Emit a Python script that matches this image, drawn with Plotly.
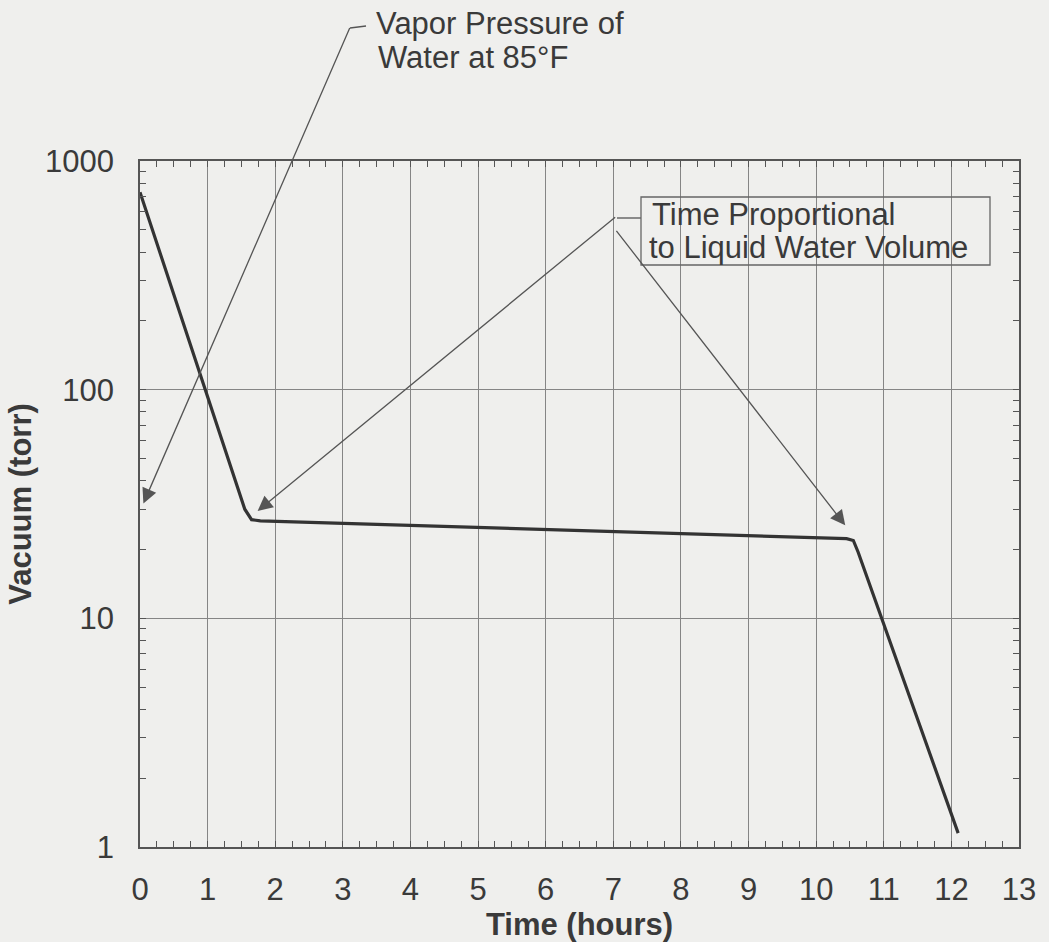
import numpy as np
import plotly.graph_objects as go

# ---- data ----
time_h = [0.0, 1.55, 1.65, 1.78, 10.45, 10.55, 10.62, 12.1]
vacuum_torr = [730, 30.0, 27.0, 26.7, 22.3, 21.9, 19.5, 1.15]

x_ticks = list(range(0, 14))
y_ticks = [1, 10, 100, 1000]
y_tick_labels = ["1", "10", "100", "1000"]

vapor_point = (0.05, 31.8)          # vapor pressure of water at 85 F (torr)
plateau_start_tip = (1.74, 29.5)
plateau_end_tip = (10.43, 25.5)

FONT = "Arial, Liberation Sans, sans-serif"
TXT = "#3a3a3a"
BG = "#efefed"
FS = 31

W, H = 1049, 942
L, R, T, B = 140, 30, 161, 95
PW, PH = W - L - R, H - T - B


def px_to_paper(px, py):
    return (px - L) / PW, (H - B - py) / PH


fig = go.Figure()
fig.add_trace(go.Scatter(
    x=time_h, y=vacuum_torr, mode="lines",
    line=dict(color="#333333", width=3.2),
    showlegend=False, hoverinfo="skip"))

axis_common = dict(
    showline=True, linecolor="#555555", linewidth=1.5, mirror="ticks",
    ticks="inside", tickcolor="#555555", ticklen=6,
    showgrid=True, gridcolor="#858585", gridwidth=1.2,
    zeroline=False,
    tickfont=dict(family=FONT, size=FS, color=TXT),
)

fig.update_xaxes(
    **axis_common,
    range=[0, 13], tickmode="array", tickvals=x_ticks,
    ticktext=[str(v) for v in x_ticks],
    minor=dict(ticks="inside", dtick=0.25, ticklen=6, tickcolor="#555555", showgrid=False),
    ticklabelstandoff=14,
    title=dict(text="<b>Time (hours)</b>", font=dict(family=FONT, size=FS, color=TXT), standoff=2),
)
fig.update_yaxes(
    **axis_common,
    type="log", range=[0, 3], tickmode="array", tickvals=y_ticks, ticktext=y_tick_labels,
    minor=dict(ticks="inside", dtick="D1", ticklen=6, tickcolor="#555555", showgrid=False),
    ticklabelstandoff=18,
    title=dict(text="<b>Vacuum (torr)</b>", font=dict(family=FONT, size=FS, color=TXT), standoff=4),
)

arrow_style = dict(showarrow=True, arrowhead=2, arrowsize=2.3, arrowwidth=1.3,
                   arrowcolor="#555555", standoff=0, text="", axref="pixel", ayref="pixel")

# Vapor pressure arrow: tail at pixel (350, 28)
fig.add_annotation(x=vapor_point[0], y=np.log10(vapor_point[1]), ax=207, ay=-477, **arrow_style)
x0, y0 = px_to_paper(350, 28)
x1, y1 = px_to_paper(366, 26)
fig.add_shape(type="line", xref="paper", yref="paper", x0=x0, y0=y0, x1=x1, y1=y1,
              line=dict(color="#555555", width=1.3))

# Time proportional arrows: tail junction at pixel (617, 218)
fig.add_annotation(x=plateau_start_tip[0], y=np.log10(plateau_start_tip[1]), ax=359, ay=-295, **arrow_style)
fig.add_annotation(x=plateau_end_tip[0], y=np.log10(plateau_end_tip[1]), ax=-230, ay=-296, **arrow_style)
x0, y0 = px_to_paper(617, 218)
x1, y1 = px_to_paper(641, 218)
fig.add_shape(type="line", xref="paper", yref="paper", x0=x0, y0=y0, x1=x1, y1=y1,
              line=dict(color="#555555", width=1.3))

# box
bx0, by0 = px_to_paper(641, 265)
bx1, by1 = px_to_paper(990, 197)
fig.add_shape(type="rect", xref="paper", yref="paper", x0=bx0, y0=by0, x1=bx1, y1=by1,
              line=dict(color="#666666", width=1.3), fillcolor="rgba(0,0,0,0)")


def label(text, px, py_mid):
    xp, yp = px_to_paper(px, py_mid)
    fig.add_annotation(x=xp, y=yp, xref="paper", yref="paper", text=text, showarrow=False,
                       xanchor="left", yanchor="middle", borderpad=0,
                       font=dict(family=FONT, size=FS, color=TXT))


label("Vapor Pressure of", 375, 23)
label("Water at 85°F", 377, 57)
label("Time Proportional", 651, 214)
label("to Liquid Water Volume", 648, 248)

fig.update_layout(
    width=W, height=H,
    margin=dict(l=L, r=R, t=T, b=B),
    paper_bgcolor=BG, plot_bgcolor=BG,
    font=dict(family=FONT, color=TXT),
)

fig.write_html(
    "out.html",
    config={"displayModeBar": False},
    post_script="document.body.style.margin='0';document.body.style.background='%s';"
                "document.body.style.overflow='hidden';" % BG,
)
